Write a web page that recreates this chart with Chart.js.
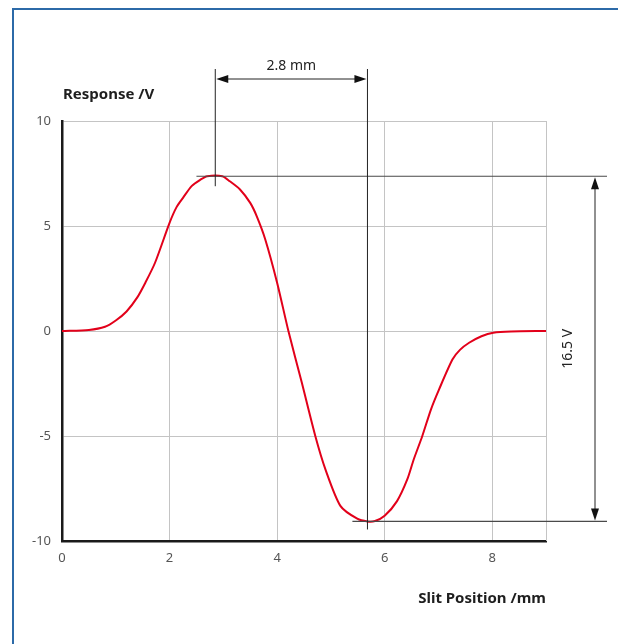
<!DOCTYPE html>
<html>
<head>
<meta charset="utf-8">
<script src="https://cdn.jsdelivr.net/npm/chart.js@4"></script>
<style>
  html, body { margin: 0; padding: 0; background: #fff; }
  #wrap { position: relative; width: 618px; height: 644px; overflow: hidden; }
  #frame { position: absolute; left: 12px; top: 8px; width: 700px; height: 700px;
           border-top: 2px solid #2c6aa8; border-left: 2px solid #2c6aa8; }
  canvas { position: absolute; left: 0; top: 0; }
</style>
</head>
<body>
<div id="wrap">
  <div id="frame"></div>
  <canvas id="c" width="618" height="644"></canvas>
</div>
<script>
// ---- data ----
const slitPosition = [0, 0.5, 0.8, 1.0, 1.2, 1.4, 1.55, 1.73, 2.0, 2.13, 2.25, 2.41, 2.57, 2.7, 2.98, 3.12, 3.31, 3.5, 3.62, 3.78, 4.0, 4.21, 4.46, 4.71, 4.9, 5.18, 5.49, 5.68, 5.82, 6.0, 6.23, 6.42, 6.54, 6.7, 6.86, 7.01, 7.26, 7.4, 7.57, 7.8, 8.02, 8.35, 9.0];
const response     = [0, 0.05, 0.2, 0.5, 0.93, 1.6, 2.3, 3.25, 5.15, 5.9, 6.34, 6.9, 7.2, 7.37, 7.37, 7.13, 6.74, 6.1, 5.47, 4.36, 2.3, 0, -2.47, -5.0, -6.6, -8.34, -8.94, -9.07, -9.05, -8.8, -8.1, -7.07, -6.12, -5.0, -3.74, -2.79, -1.36, -0.9, -0.56, -0.25, -0.08, -0.02, 0];
const xTicks = [0, 2, 4, 6, 8];
const yTicks = [-10, -5, 0, 5, 10];
const xTitle = 'Slit Position /mm';
const yTitle = 'Response /V';
const peakX = 2.85, peakY = 7.37;
const troughX = 5.68, troughY = -9.07;
const widthLabel = '2.8 mm';
const heightLabel = '16.5 V';
const topRefStartX = 2.5, bottomRefStartX = 5.4;

const FONT = '"Noto Sans", "Open Sans", sans-serif';

function arrowHead(ctx, x, y, dir) {
  const L = 12, W = 4;
  ctx.beginPath();
  ctx.moveTo(x, y);
  if (dir === 'left')  { ctx.lineTo(x + L, y - W); ctx.lineTo(x + L, y + W); }
  if (dir === 'right') { ctx.lineTo(x - L, y - W); ctx.lineTo(x - L, y + W); }
  if (dir === 'up')    { ctx.lineTo(x - W, y + L); ctx.lineTo(x + W, y + L); }
  if (dir === 'down')  { ctx.lineTo(x - W, y - L); ctx.lineTo(x + W, y - L); }
  ctx.closePath();
  ctx.fill();
}

const annotate = {
  id: 'annotate',
  afterDraw(chart) {
    const ctx = chart.ctx, xs = chart.scales.x, ys = chart.scales.y, area = chart.chartArea;
    ctx.save();
    ctx.strokeStyle = '#c4c4c4'; ctx.lineWidth = 1;
    const gx = Math.round(xs.getPixelForValue(9)) + 0.5;
    ctx.beginPath(); ctx.moveTo(gx, area.top); ctx.lineTo(gx, area.bottom); ctx.stroke();

    const px1 = xs.getPixelForValue(peakX), px2 = xs.getPixelForValue(troughX);
    const pyTop = ys.getPixelForValue(peakY), pyBot = ys.getPixelForValue(troughY);
    const lineTopY = area.top - 52;
    const arrowY = area.top - 42;
    const rightEnd = area.right + 61;
    const arrowX = area.right + 49;

    ctx.strokeStyle = '#4a4a4a'; ctx.lineWidth = 1.2;
    ctx.beginPath();
    ctx.moveTo(xs.getPixelForValue(topRefStartX), pyTop); ctx.lineTo(rightEnd, pyTop);
    ctx.moveTo(xs.getPixelForValue(bottomRefStartX), pyBot); ctx.lineTo(rightEnd, pyBot);
    ctx.stroke();
    ctx.strokeStyle = '#222'; ctx.lineWidth = 1;
    ctx.beginPath();
    ctx.moveTo(px1, lineTopY); ctx.lineTo(px1, pyTop + 10);
    ctx.moveTo(px2, lineTopY); ctx.lineTo(px2, pyBot + 8);
    ctx.stroke();
    ctx.fillStyle = '#111';
    ctx.beginPath(); ctx.moveTo(px1 + 6, arrowY); ctx.lineTo(px2 - 6, arrowY); ctx.stroke();
    arrowHead(ctx, px1 + 1, arrowY, 'left');
    arrowHead(ctx, px2 - 1, arrowY, 'right');
    ctx.fillStyle = '#222';
    ctx.font = '14px ' + FONT;
    ctx.textAlign = 'center'; ctx.textBaseline = 'alphabetic';
    ctx.fillText(widthLabel, (px1 + px2) / 2, arrowY - 9);
    ctx.fillStyle = '#111';
    ctx.beginPath(); ctx.moveTo(arrowX, pyTop + 6); ctx.lineTo(arrowX, pyBot - 6); ctx.stroke();
    arrowHead(ctx, arrowX, pyTop + 1, 'up');
    arrowHead(ctx, arrowX, pyBot - 1, 'down');
    ctx.save();
    ctx.translate(arrowX - 27, (pyTop + pyBot) / 2);
    ctx.rotate(-Math.PI / 2);
    ctx.fillStyle = '#222';
    ctx.font = '14px ' + FONT;
    ctx.textAlign = 'center'; ctx.textBaseline = 'middle';
    ctx.fillText(heightLabel, 0, 0);
    ctx.restore();
    ctx.fillStyle = '#1e1e1e';
    ctx.font = 'bold 15px ' + FONT;
    ctx.textBaseline = 'alphabetic';
    ctx.textAlign = 'left';
    ctx.fillText(yTitle, area.left + 1, area.top - 22);
    ctx.textAlign = 'right';
    ctx.fillText(xTitle, area.right, area.bottom + 62);
    ctx.restore();
  }
};

new Chart(document.getElementById('c'), {
  type: 'line',
  data: {
    datasets: [{
      data: slitPosition.map((x, i) => ({ x, y: response[i] })),
      borderColor: '#e2001a',
      borderWidth: 2,
      pointRadius: 0,
      tension: 0.25,
      fill: false
    }]
  },
  options: {
    responsive: false,
    animation: false,
    devicePixelRatio: 1,
    layout: { padding: { left: 22, top: 121, right: 72, bottom: 73 } },
    plugins: { legend: { display: false }, tooltip: { enabled: false } },
    scales: {
      x: {
        type: 'linear', min: 0, max: 9,
        afterBuildTicks: s => { s.ticks = xTicks.map(v => ({ value: v })); },
        afterFit: s => { s.height = 30; },
        ticks: { color: '#555', font: { family: FONT, size: 13 }, padding: 9 },
        grid: { color: '#c4c4c4', lineWidth: 1, drawTicks: false },
        border: { color: '#1a1a1a', width: 2.5 }
      },
      y: {
        type: 'linear', min: -10, max: 10,
        afterBuildTicks: s => { s.ticks = yTicks.map(v => ({ value: v })); },
        afterFit: s => { s.width = 40; },
        ticks: { color: '#555', font: { family: FONT, size: 13 }, padding: 11 },
        grid: { color: '#c4c4c4', lineWidth: 1, drawTicks: false },
        border: { color: '#1a1a1a', width: 2.5 }
      }
    }
  },
  plugins: [annotate]
});
</script>
</body>
</html>
